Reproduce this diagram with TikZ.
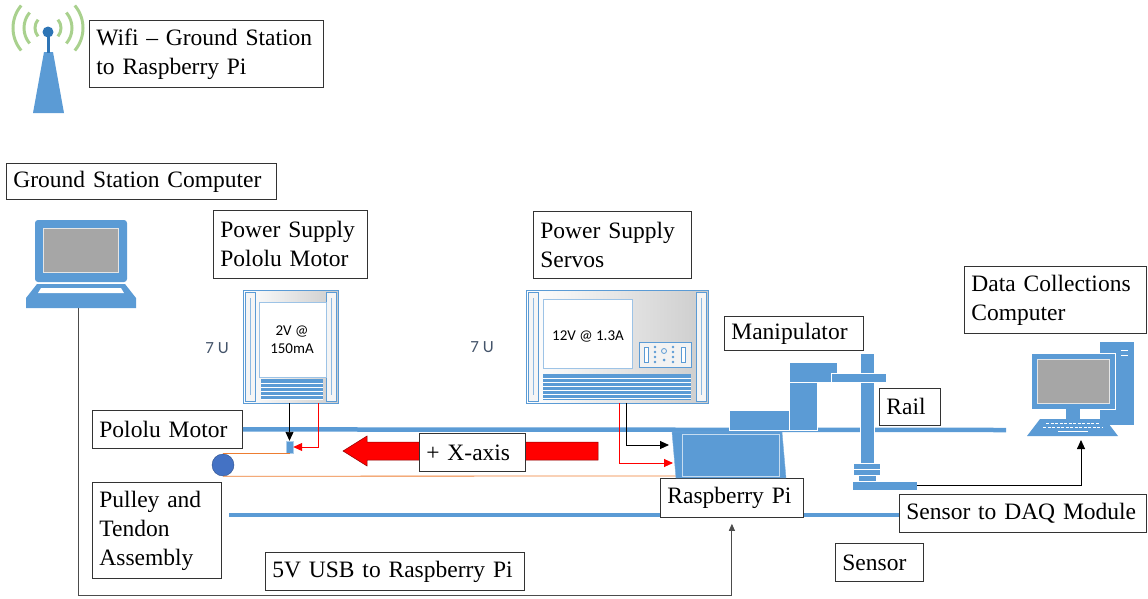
\documentclass[tikz,border=0pt]{standalone}
\usepackage{fontspec}
\setmainfont{Liberation Serif}
\newfontfamily\panelfont{Carlito}
\usetikzlibrary{arrows.meta}

\definecolor{office}{RGB}{91,155,213}
\definecolor{darkoffice}{RGB}{46,117,182}
\definecolor{screengray}{RGB}{166,166,166}
\definecolor{leaf}{RGB}{169,209,142}
\definecolor{tendon}{RGB}{237,125,49}
\definecolor{slate}{RGB}{68,84,106}
\definecolor{wheel}{RGB}{68,114,196}

\begin{document}
\begin{tikzpicture}[x=1pt,y=-1pt,
    >={Triangle[length=9pt,width=8pt]},
    tag/.style={draw=black!80,line width=0.8pt,fill=white,anchor=north west,
      align=left,inner xsep=7pt,inner ysep=0pt,font=\fontsize{23.5}{29}\selectfont},
    wire/.style={line width=0.9pt},
    blk/.style={fill=office,draw=white,line width=0.7pt},
    vents/.style={fill=office},
    panel/.style={font=\panelfont\fontsize{15}{18}\selectfont,align=center}]
  \useasboundingbox (0,0) rectangle (1148,598);

  % wifi antenna
  \foreach \r in {13,24,35} {
    \draw[leaf,line width=3pt] (48,28) ++(140:\r) arc[start angle=140,end angle=220,radius=\r];
    \draw[leaf,line width=3pt] (48,28) ++(-40:\r) arc[start angle=-40,end angle=40,radius=\r];
  }
  \fill[office] (44,52) -- (53,52) -- (64,113) -- (33,113) -- cycle;
  \fill[darkoffice] (47,36) rectangle (49.5,53);
  \fill[darkoffice] (48,32) circle[radius=5.5];

  % laptop
  \fill[office,rounded corners=3pt] (35,220) rectangle (127,282);
  \draw[fill=screengray,draw=white!80!gray,line width=0.6pt] (43,228) rectangle (118,272);
  \fill[office] (37,284) -- (125,284) -- (136,298) -- (136,308) -- (26,308) -- (26,298) -- cycle;
  \fill[white] (41,288) -- (121,288) -- (124,293) -- (38,293) -- cycle;
  \coordinate (lapfoot) at (78,308);

  % power supply, pololu motor
  \draw[office,line width=0.8pt,left color=white,right color=gray!40] (243,290) rectangle (338,403);
  \draw[office,fill=white!92!gray] (245,292) rectangle (255,401);
  \draw[office,fill=white!92!gray] (326,292) rectangle (336,401);
  \draw[office!70] (250,298) -- (250,395) (331,298) -- (331,395);
  \draw[office!60,fill=white] (259,302) rectangle (326,377);
  \fill[vents] (261,379) rectangle (323,400);
  \foreach \y in {383,387,...,399}
    \draw[white,line width=0.6pt] (261,\y) -- (323,\y);
  \node[panel] (pmval) at (292,340) {2V @\\150mA};
  \coordinate (pmblack) at (289.5,403);
  \coordinate (pmred) at (318,403);

  % power supply, servos
  \draw[office,line width=0.8pt,left color=white,right color=gray!40] (526,290) rectangle (708,403);
  \draw[office,fill=white!92!gray] (528,292) rectangle (538,401);
  \draw[office,fill=white!92!gray] (696,292) rectangle (706,401);
  \draw[office!70] (533,298) -- (533,395) (701,298) -- (701,395);
  \draw[office!60,fill=white] (543,299) rectangle (632,368);
  \draw[office,fill=white!90!gray] (639,342) rectangle (691,367);
  \draw[office,fill=white] (644,347) rectangle (648,362) (681,347) rectangle (685,362);
  \foreach \y in {347,352,357,362}
    \fill[office] (655,\y) circle[radius=1.3] (673,\y) circle[radius=1.3];
  \draw[office,line width=0.8pt] (664,351) circle[radius=2.5];
  \fill[office] (664,360) circle[radius=1.5];
  \fill[vents] (543,374) rectangle (691,400);
  \foreach \y in {378,382,...,398}
    \draw[white,line width=0.6pt] (543,\y) -- (691,\y);
  \node[panel] (svval) at (588,336) {12V @ 1.3A};
  \coordinate (svblack) at (626,403);
  \coordinate (svred) at (619,403);

  \node[panel,text=slate,font=\panelfont\fontsize{17}{18}\selectfont] (unita) at (217,348) {7 U};
  \node[panel,text=slate,font=\panelfont\fontsize{17}{18}\selectfont] (unitb) at (482,347) {7 U};

  % direction of travel
  \draw[fill=red,draw=red!55!black,line width=0.5pt] (598,442) -- (367,442) -- (367,436)
    -- (343,451) -- (367,466) -- (367,460) -- (598,460) -- cycle;

  % labels
  \node[tag,text width=220pt,minimum height=67pt] (wifi) at (89,20) {Wifi – Ground Station\\to Raspberry Pi};
  \node[tag,text width=256pt,minimum height=36pt] (gsc) at (6,163) {Ground Station Computer};
  \node[tag,text width=140pt,minimum height=68pt] (pspm) at (213,210) {Power Supply\\Pololu Motor};
  \node[tag,text width=144pt,minimum height=67pt] (pssv) at (533,211) {Power Supply\\Servos};
  \node[tag,text width=125pt,minimum height=34pt] (manip) at (724,316) {Manipulator};
  \node[tag,text width=168pt,minimum height=67pt] (dcc) at (964,266) {Data Collections\\Computer};
  \node[tag,text width=47pt,minimum height=37pt] (rail) at (879,388) {Rail};
  \node[tag,text width=136pt,minimum height=38pt] (pmot) at (92,410) {Pololu Motor};
  \node[tag,text width=92pt,minimum height=38pt] (xaxis) at (419,433) {+ X-axis};
  \node[tag,text width=129pt,minimum height=39pt] (pi) at (660,478) {Raspberry Pi};
  \node[tag,text width=115pt,minimum height=96pt] (pulley) at (92,482) {Pulley and\\Tendon\\Assembly};
  \node[tag,text width=245pt,minimum height=38pt] (usb) at (265,552) {5V USB to Raspberry Pi};
  \node[tag,text width=233pt,minimum height=38pt] (daq) at (899,494) {Sensor to DAQ Module};
  \node[tag,text width=74pt,minimum height=38pt] (sensor) at (835,543) {Sensor};

  % rails and tendon
  \coordinate (railend) at (1006,430);
  \draw[office,line width=4.5pt] (pmot.east) -- (railend);
  \coordinate (tendonend) at (229,515);
  \draw[office,line width=4pt] (tendonend) -- (tendonend -| pi.west);
  \draw[office,line width=4pt] (tendonend -| pi.east) -- (tendonend -| daq.west);
  \node[circle,fill=wheel,draw=wheel!70!black,minimum size=22pt,inner sep=0pt] (wheel) at (223,465) {};
  \node[fill=office,draw=office!50,minimum width=7pt,minimum height=12pt,inner sep=0pt] (motor) at (289.5,447) {};
  \coordinate (pifoot) at (677,476);
  \draw[tendon,line width=0.8pt] (wheel.north) -- (wheel.north -| motor.south);
  \draw[tendon,line width=0.8pt] (wheel.south) -- (pifoot);

  % power and data wires
  \coordinate (piblack) at (669,445);
  \coordinate (pired) at (673,463);
  \draw[wire,->] (pmblack) -- (motor.north);
  \draw[wire,red,->] (pmred) |- (motor.east);
  \draw[wire,->] (svblack) |- (piblack);
  \draw[wire,red,->] (svred) |- (pired);
  \draw[wire,black!70,->,>={Triangle[length=7pt,width=6pt]}] (lapfoot) -- ++(0,287) -| ([yshift=-6pt]pi.south);

  % raspberry pi
  \draw[fill=office,draw=office!80!white] (672,432) -- (782,432) -- (786,478) -- (676,478) -- cycle;
  \draw[white!65!office,line width=0.8pt] (682,434) rectangle (779,476);

  % manipulator on the rail
  \draw[blk] (729,410) rectangle (789,430);
  \draw[blk] (789,382) rectangle (817,430);
  \draw[blk] (789,362) rectangle (837,382);
  \draw[blk] (860,353) rectangle (874,463);
  \draw[blk] (831,373) rectangle (886,382);
  \draw[blk] (853,463) rectangle (880,469);
  \draw[blk] (853,469) rectangle (880,475);
  \draw[blk] (858,475) rectangle (876,481);
  \draw[blk] (852,481) rectangle (917,490);
  \coordinate (plate) at (917,485);

  % data collections computer
  \fill[office] (1100,342) rectangle (1134,425);
  \draw[white,line width=1pt] (1121,350) -- (1128,350) (1121,355) -- (1128,355);
  \draw[fill=office,draw=white,line width=1pt] (1031,353) rectangle (1115,409);
  \draw[fill=screengray,draw=white!80!gray,line width=0.6pt] (1037,359) rectangle (1109,403);
  \fill[office] (1066,409) rectangle (1080,419);
  \fill[office] (1040,419) -- (1105,419) -- (1118,436) -- (1027,436) -- cycle;
  \draw[white,line width=1.6pt,dash pattern=on 3pt off 1.5pt] (1046,423.5) -- (1099,423.5);
  \draw[white,line width=1.6pt,dash pattern=on 3pt off 1.5pt] (1043,427.5) -- (1102,427.5);
  \draw[white,line width=1.6pt] (1058,431.5) -- (1088,431.5);
  \coordinate (kbd) at (1081,440);
  \draw[wire,->] (plate) -| (kbd);
\end{tikzpicture}
\end{document}
